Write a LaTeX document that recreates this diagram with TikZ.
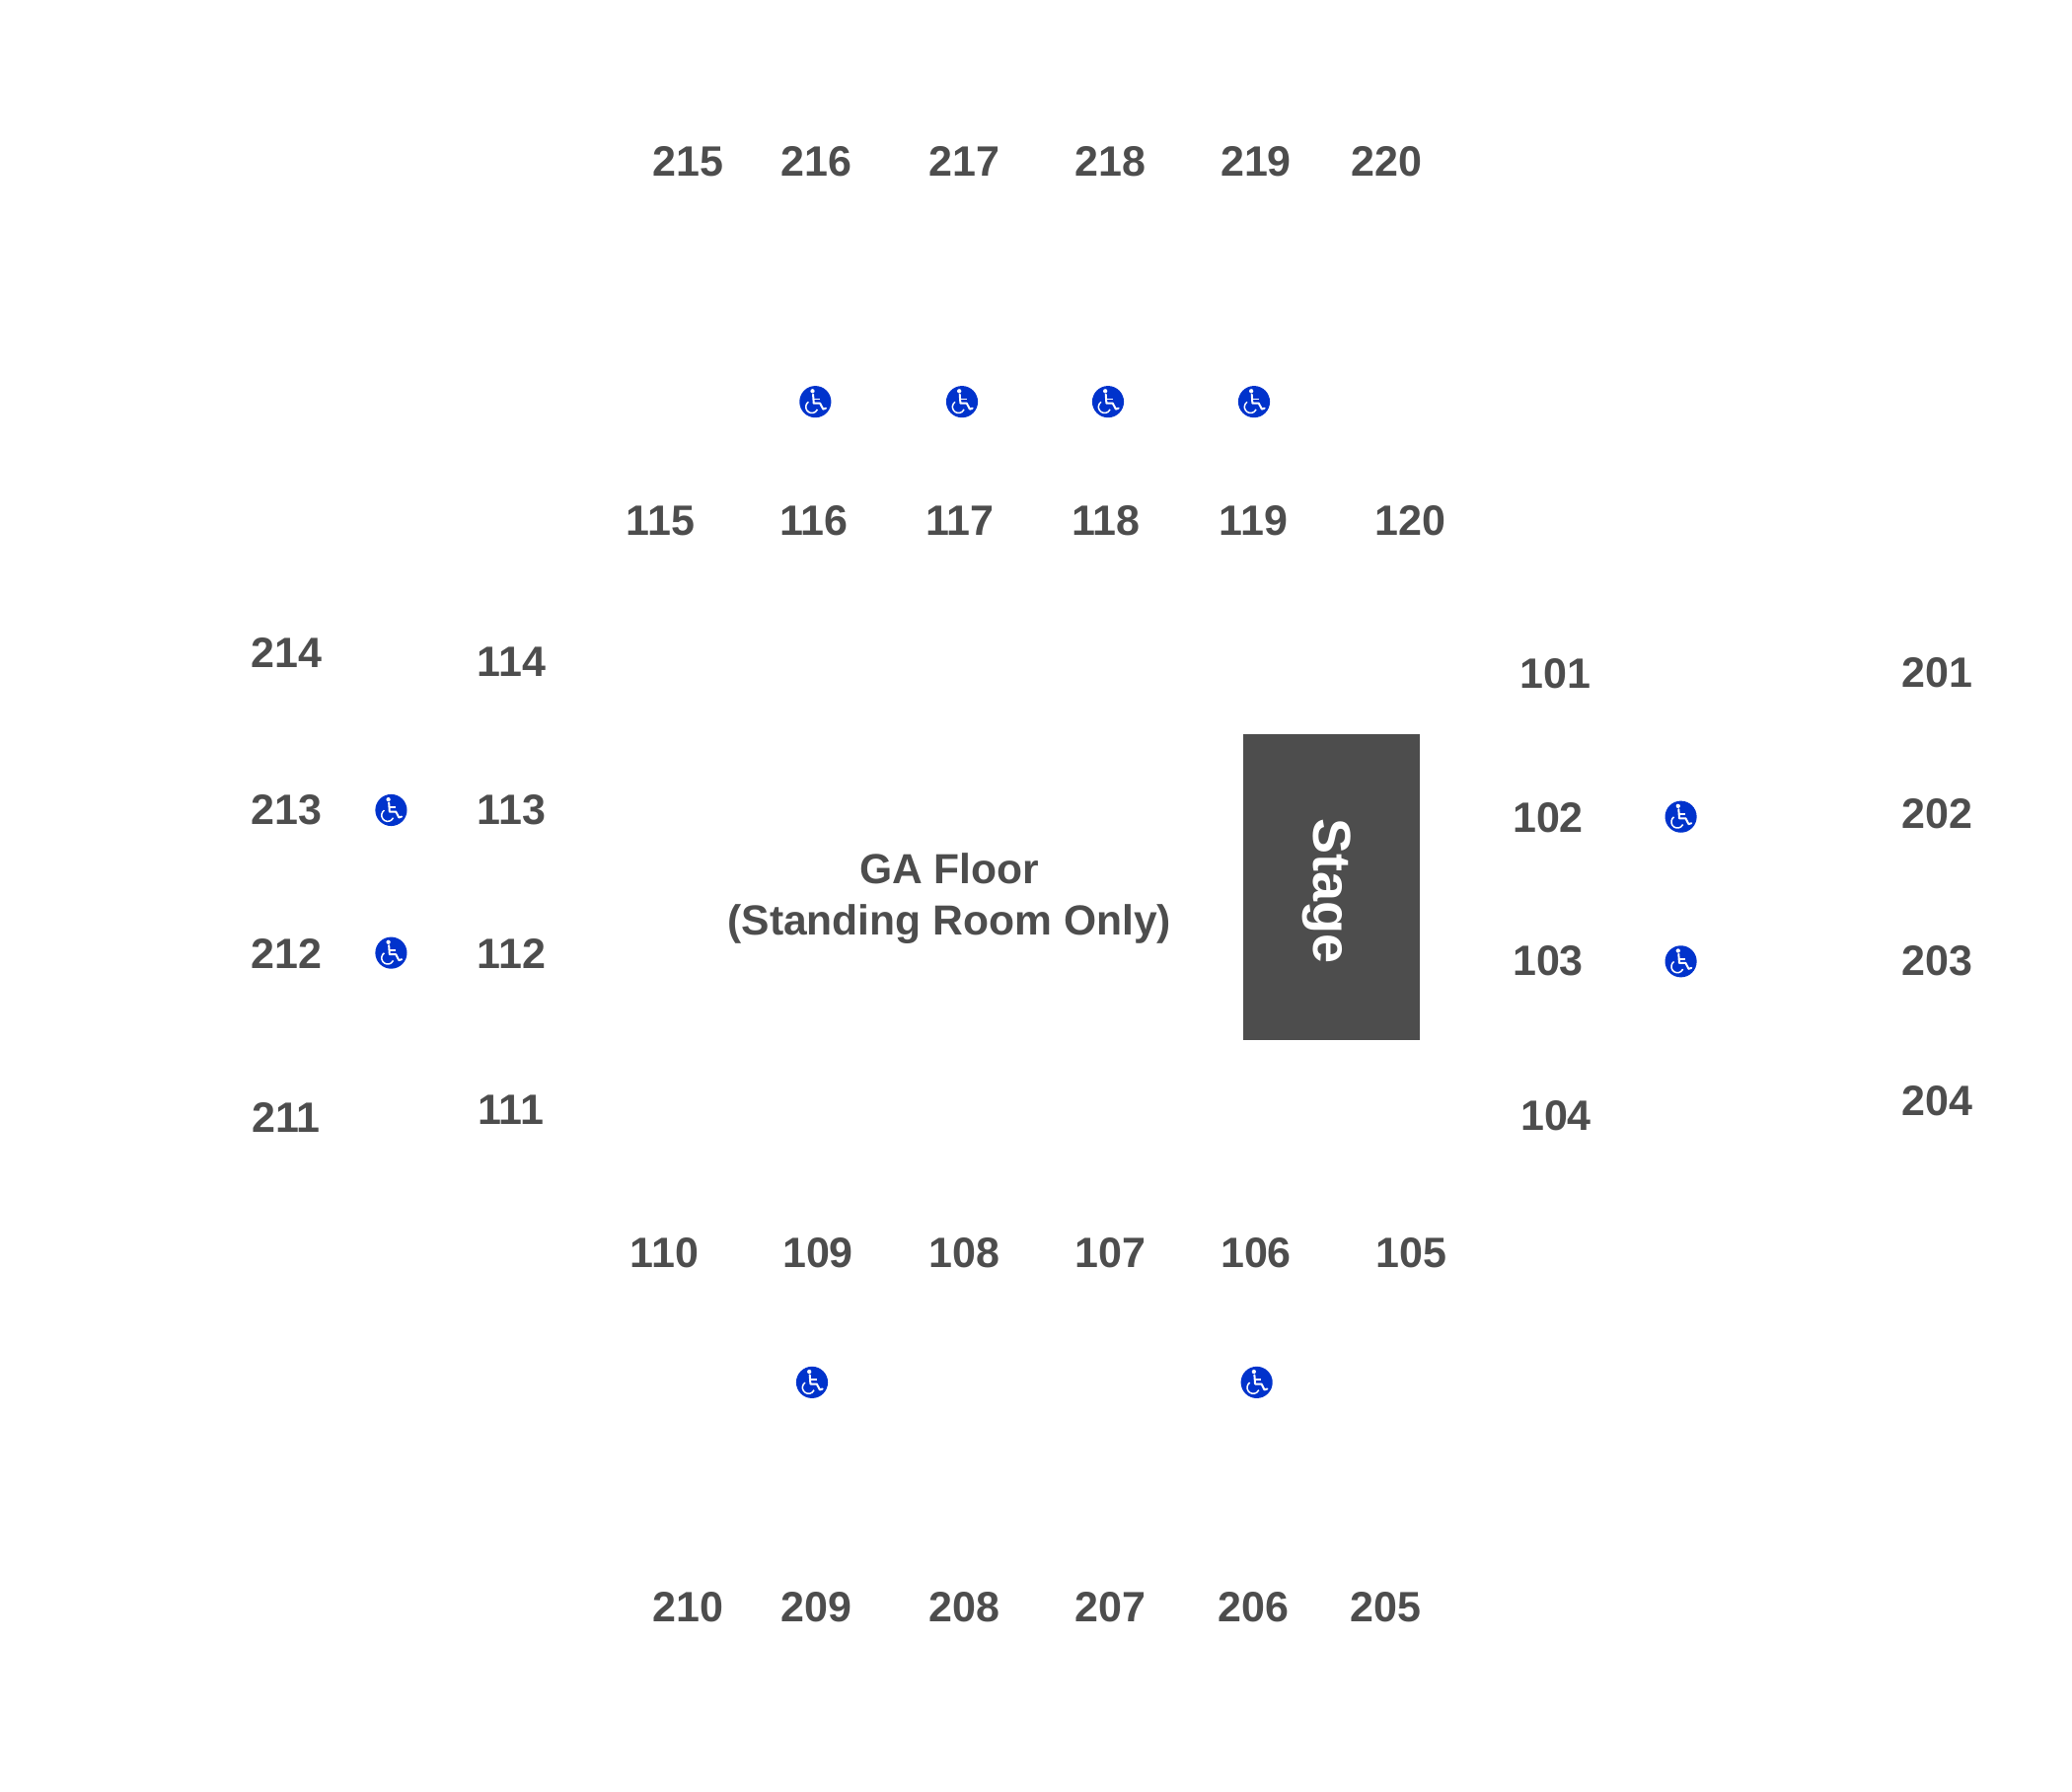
\documentclass[tikz,border=0pt]{standalone}
\usepackage{fontspec}
\setmainfont{Liberation Sans}
\usepackage{pgf,tikz}
\usetikzlibrary{calc}
\definecolor{seatgray}{HTML}{4D4D4D}
\definecolor{wheelblue}{HTML}{0033CC}

\begin{document}
\begin{tikzpicture}[x=1.3393pt, y=-1.3393pt,
  seclabel/.style={text=seatgray, font=\fontsize{43}{44}\bfseries\selectfont, inner sep=0pt, text height=30.5pt, text depth=0.8pt},
  wheelicon/.pic={
    \fill[wheelblue] (0,0) circle (12);
    \fill[white] (-2.1,-8.1) circle (1.6);
    \draw[white, line width=2pt, line cap=round, line join=round] (-1.7,-5.6) -- (-1.2,1.2) -- (3.6,1.2) -- (5.9,5.6) -- (8,4.9);
    \draw[white, line width=1.7pt] (-1.3,-2) -- (3.6,-2);
    \draw[white, line width=1.5pt] ([shift={(235:4.6)}]-2.6,3.9) arc (235:25:4.6);
  }]

\useasboundingbox (0,0) rectangle (1568,1355.9);

\node[seclabel] (s215) at (521,122) {215};
\node[seclabel] (s216) at (618,122) {216};
\node[seclabel] (s217) at (730,122) {217};
\node[seclabel] (s218) at (840.5,122) {218};
\node[seclabel] (s219) at (950.5,122) {219};
\node[seclabel] (s220) at (1049.5,122) {220};

\node[seclabel] (s115) at (500,394) {115};
\node[seclabel] (s116) at (616,394) {116};
\node[seclabel] (s117) at (726.5,394) {117};
\node[seclabel] (s118) at (837,394) {118};
\node[seclabel] (s119) at (948.5,394) {119};
\node[seclabel] (s120) at (1067.5,394) {120};

\node[seclabel] (s214) at (217,494) {214};
\node[seclabel] (s213) at (217,613) {213};
\node[seclabel] (s212) at (217,722) {212};
\node[seclabel] (s211) at (216.5,846) {211};

\node[seclabel] (s114) at (387,501) {114};
\node[seclabel] (s113) at (387,613) {113};
\node[seclabel] (s112) at (387,722) {112};
\node[seclabel] (s111) at (386.5,840) {111};

\node[seclabel] (s101) at (1177,510) {101};
\node[seclabel] (s102) at (1171.5,619) {102};
\node[seclabel] (s103) at (1171.5,727) {103};
\node[seclabel] (s104) at (1177.5,844) {104};

\node[seclabel] (s201) at (1466,509) {201};
\node[seclabel] (s202) at (1466,616) {202};
\node[seclabel] (s203) at (1466,727) {203};
\node[seclabel] (s204) at (1466,833) {204};

\node[seclabel] (s110) at (503,948) {110};
\node[seclabel] (s109) at (619,948) {109};
\node[seclabel] (s108) at (730,948) {108};
\node[seclabel] (s107) at (840.5,948) {107};
\node[seclabel] (s106) at (950.5,948) {106};
\node[seclabel] (s105) at (1068,948) {105};

\node[seclabel] (s210) at (521,1216) {210};
\node[seclabel] (s209) at (618,1216) {209};
\node[seclabel] (s208) at (730,1216) {208};
\node[seclabel] (s207) at (840.5,1216) {207};
\node[seclabel] (s206) at (948.5,1216) {206};
\node[seclabel] (s205) at (1048.5,1216) {205};

% stage and floor
\fill[seatgray] (941,555.5) rectangle (1074.5,787);
\node[text=white, font=\fontsize{54}{54}\bfseries\selectfont, rotate=-90, inner sep=0pt] (stage) at (1004,674) {Stage};
\node[text=seatgray, font=\fontsize{42.6}{52}\bfseries\selectfont, align=center, inner sep=0pt] (floor) at (718.5,680) {GA Floor\\(Standing Room Only)};

\pic at (617,304) {wheelicon};
\pic at (728,304) {wheelicon};
\pic at (838.5,304) {wheelicon};
\pic at (949,304) {wheelicon};
\pic at (296,613) {wheelicon};
\pic at (296,721) {wheelicon};
\pic at (1272,618) {wheelicon};
\pic at (1272,727.5) {wheelicon};
\pic at (614.5,1046) {wheelicon};
\pic at (951,1046) {wheelicon};

\end{tikzpicture}
\end{document}
